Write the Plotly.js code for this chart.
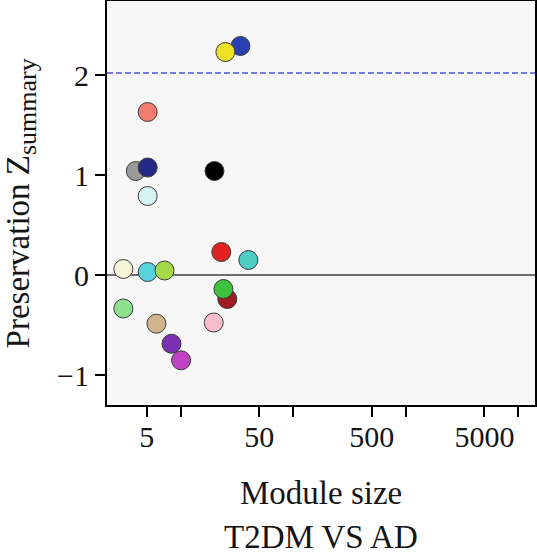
<!DOCTYPE html>
<html>
<head>
<meta charset="utf-8">
<script src="https://cdn.plot.ly/plotly-3.0.1.min.js"></script>
<style>
  html, body { margin: 0; padding: 0; background: #ffffff; }
  #chart { width: 537px; height: 557px; }
</style>
</head>
<body>
<div id="chart"></div>
<script>
// Module preservation: module size vs. Z-summary, one point per module (back to front)
const moduleColors = [
  "#9a9a9a", "#232a86", "#f47c6e", "#d5f3f0", "#000000", "#2c3fb0", "#eee024",
  "#f3f3d6", "#56d3dc", "#a6d94a", "#e02222", "#4ecdc4", "#9e1b24", "#3ec13e",
  "#8ce08e", "#d2b48c", "#f6bccb", "#7b2fb4", "#c043c4"
];
const moduleSize = [
  4.0, 5.1, 5.1, 5.1, 20, 34, 25,
  3.1, 5.1, 7.2, 23, 40, 26, 24,
  3.1, 6.1, 19.7, 8.3, 10.1
];
const zSummary = [
  1.04, 1.075, 1.63, 0.79, 1.04, 2.29, 2.23,
  0.06, 0.03, 0.045, 0.23, 0.15, -0.24, -0.14,
  -0.335, -0.487, -0.475, -0.687, -0.853
];
const thresholdZ = 2.02;

const xTickVals = [5, 50, 500, 5000];
const xTickText = ["5", "50", "500", "5000"];
const xMinorTickVals = [10, 100, 1000, 10000];
const yTickVals = [-1, 0, 1, 2];
const yTickText = ["\u22121", "0", "1", "2"];

const serif = "Liberation Serif, Times New Roman, serif";
const tickSize = 30;
const titleSize = 33;
const textColor = "#151515";

const trace = {
  type: "scatter",
  mode: "markers",
  x: moduleSize,
  y: zSummary,
  marker: {
    size: 19,
    color: moduleColors,
    opacity: 1,
    line: { color: "#3a3a3a", width: 1 }
  },
  hoverinfo: "skip",
  showlegend: false
};

const layout = {
  width: 537,
  height: 557,
  margin: { l: 107, r: 2, t: 1, b: 152 },
  paper_bgcolor: "#ffffff",
  plot_bgcolor: "#f7f7f7",
  font: { family: serif, size: tickSize, color: textColor },
  xaxis: {
    type: "log",
    range: [0.3463, 4.148],
    tickmode: "array",
    tickvals: xTickVals,
    ticktext: xTickText,
    ticks: "outside",
    ticklen: 10,
    tickwidth: 2,
    tickcolor: "#000000",
    ticklabelstandoff: -6,
    minor: {
      tickmode: "array",
      tickvals: xMinorTickVals,
      ticks: "outside",
      ticklen: 10,
      tickwidth: 2,
      tickcolor: "#000000",
      showgrid: false
    },
    showline: true,
    linecolor: "#000000",
    linewidth: 2,
    mirror: true,
    showgrid: false,
    zeroline: false,
    tickfont: { family: serif, size: tickSize, color: textColor }
  },
  yaxis: {
    range: [-1.30, 2.74],
    tickmode: "array",
    tickvals: yTickVals,
    ticktext: yTickText,
    ticks: "outside",
    ticklen: 10,
    tickwidth: 2,
    tickcolor: "#000000",
    showline: true,
    linecolor: "#000000",
    linewidth: 2,
    mirror: true,
    showgrid: false,
    zeroline: true,
    zerolinecolor: "#6e6e6e",
    zerolinewidth: 1.5,
    tickfont: { family: serif, size: tickSize, color: textColor }
  },
  shapes: [
    {
      type: "line", xref: "paper", x0: 0, x1: 1, yref: "y", y0: thresholdZ, y1: thresholdZ,
      line: { color: "#4f4fdc", width: 1.3, dash: "6px,3px" }, layer: "below"
    }
  ],
  annotations: [
    {
      text: "Preservation Z<sub><span style=\"font-size:26px\">summary</span></sub>",
      xref: "paper", yref: "paper", x: -0.2, y: 0.5,
      xanchor: "center", yanchor: "middle", textangle: -90,
      showarrow: false, font: { family: serif, size: titleSize, color: textColor }
    },
    {
      text: "Module size",
      xref: "paper", yref: "paper", x: 0.5, y: -0.2178,
      xanchor: "center", yanchor: "middle",
      showarrow: false, font: { family: serif, size: titleSize, color: textColor }
    },
    {
      text: "T2DM VS AD",
      xref: "paper", yref: "paper", x: 0.5, y: -0.3267,
      xanchor: "center", yanchor: "middle",
      showarrow: false, font: { family: serif, size: titleSize, color: textColor }
    }
  ]
};

Plotly.newPlot("chart", [trace], layout, { displayModeBar: false, staticPlot: true });
</script>
</body>
</html>
